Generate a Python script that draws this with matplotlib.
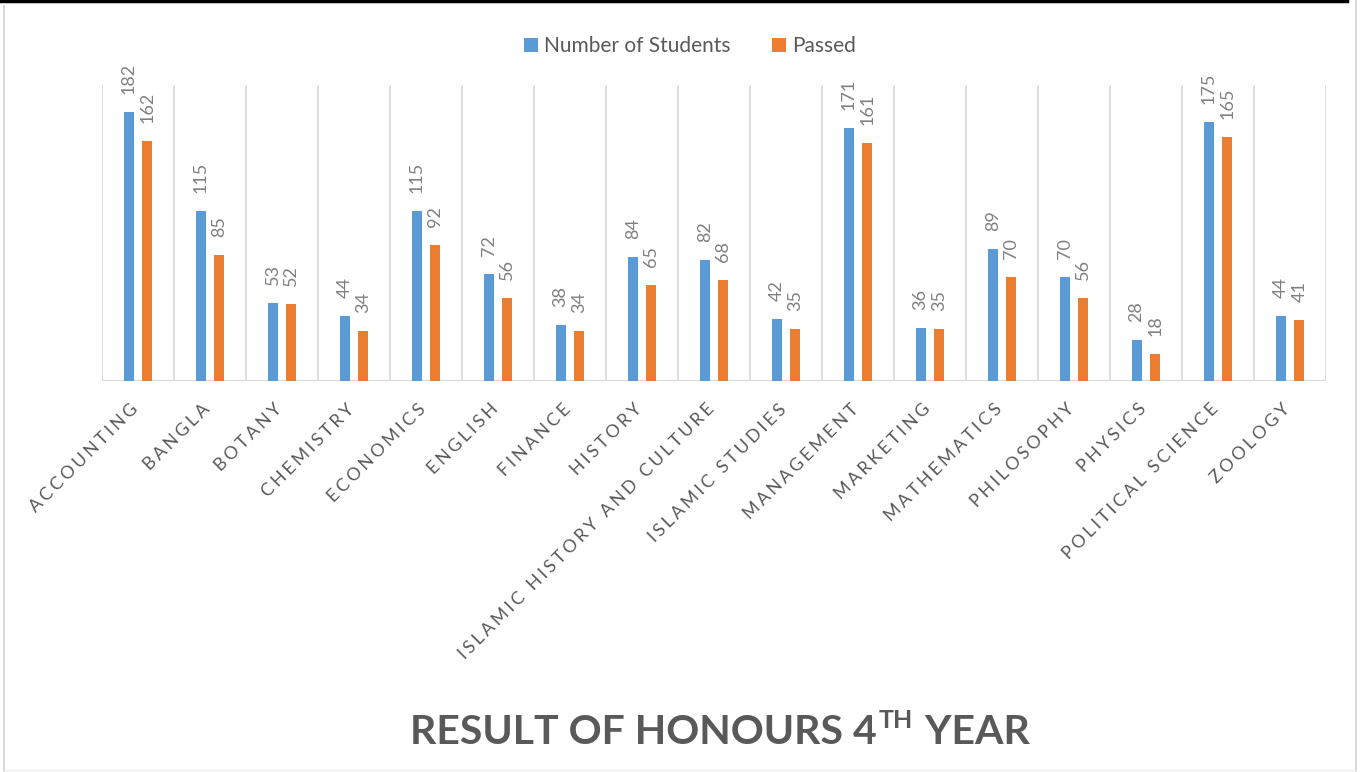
import matplotlib
matplotlib.use("Agg")
import matplotlib.pyplot as plt
from matplotlib.lines import Line2D
import numpy as np

categories = ["ACCOUNTING", "BANGLA", "BOTANY", "CHEMISTRY", "ECONOMICS", "ENGLISH",
              "FINANCE", "HISTORY", "ISLAMIC HISTORY AND CULTURE", "ISLAMIC STUDIES",
              "MANAGEMENT", "MARKETING", "MATHEMATICS", "PHILOSOPHY", "PHYSICS",
              "POLITICAL SCIENCE", "ZOOLOGY"]
students = [182, 115, 53, 44, 115, 72, 38, 84, 82, 42, 171, 36, 89, 70, 28, 175, 44]
passed = [162, 85, 52, 34, 92, 56, 34, 65, 68, 35, 161, 35, 70, 56, 18, 165, 41]
series_names = ["Number of Students", "Passed"]
title_main = "RESULT OF HONOURS 4"
title_sup = "TH"
title_end = " YEAR"

FAM = ["Lato", "DejaVu Sans"]
BLUE = "#5B9BD5"
ORANGE = "#ED7D31"
GREY = "#595959"
LGREY = "#808080"

fig = plt.figure(figsize=(13.63, 7.72), dpi=100)
ax = fig.add_axes([102/1363, 1-381/772, (1326-102)/1363, (381-85)/772])

x = np.arange(len(categories))
w = 0.14
off = 0.13
b1 = ax.bar(x - off, students, w, color=BLUE, label=series_names[0], zorder=3)
b2 = ax.bar(x + off, passed, w, color=ORANGE, label=series_names[1], zorder=3)

for bars in (b1, b2):
    for r in bars:
        ax.annotate(f"{int(r.get_height())}", (r.get_x() + r.get_width()/2, r.get_height()),
                    xytext=(0, 13), textcoords="offset points", rotation=90,
                    ha="center", va="bottom", fontsize=13, color=LGREY, family=FAM)

ax.set_xlim(-0.5, len(categories) - 0.5)
ax.set_ylim(0, 200)
for b in np.arange(-0.5, len(categories), 1.0):
    ax.axvline(b, color="#d9d9d9", lw=1.2, zorder=1)
ax.axhline(0, color="#d9d9d9", lw=1.5, zorder=2)
for s in ax.spines.values():
    s.set_visible(False)
ax.set_yticks([])
ax.set_xticks([])

GAP = "\u2006"
for xi, c in zip(x, categories):
    lab = GAP.join(list(c))
    ax.annotate(lab, (xi, 0), xycoords=("data", "axes fraction"),
                xytext=(-8, -20), textcoords="offset pixels",
                rotation=45, ha="right", va="top", rotation_mode="anchor",
                fontsize=12.8, color=GREY, family=FAM, annotation_clip=False)

leg = fig.legend(handles=[b1, b2], labels=series_names, loc="center",
                 bbox_to_anchor=(690/1363, 1-46/772), ncol=2, frameon=False,
                 prop={"family": FAM, "size": 15}, handlelength=0.65, handleheight=0.65,
                 handletextpad=0.3, columnspacing=2.0)
for t in leg.get_texts():
    t.set_color(GREY)

# title with superscript
fig.canvas.draw()
r = fig.canvas.get_renderer()
ty = 1 - 732/772
t1 = fig.text(0, ty, title_main, fontsize=29.5, fontweight="bold", color=GREY, family=FAM, va="center")
t2 = fig.text(0, ty, title_sup, fontsize=18, fontweight="bold", color=GREY, family=FAM, va="center")
t3 = fig.text(0, ty, title_end, fontsize=29.5, fontweight="bold", color=GREY, family=FAM, va="center")
W = fig.bbox.width
w1 = t1.get_window_extent(r).width / W
w2 = t2.get_window_extent(r).width / W
w3 = t3.get_window_extent(r).width / W
total = w1 + w2 + w3
start = 718/1363 - total/2
t1.set_x(start)
t2.set_x(start + w1 + 0.001)
t2.set_y(ty + 12/772)
t3.set_x(start + w1 + w2 + 0.003)

# frame lines
fig.add_artist(Line2D([0, 1347/1363], [0.999, 0.999], color="black", lw=2.5, transform=fig.transFigure))
fig.add_artist(Line2D([4/1363, 4/1363], [0, 1 - 6/772], color="#d9d9d9", lw=1.5, transform=fig.transFigure))
fig.add_artist(Line2D([1356/1363, 1356/1363], [0, 1], color="#d9d9d9", lw=1.5, transform=fig.transFigure))
fig.add_artist(Line2D([4/1363, 1356/1363], [2/772, 2/772], color="#eeeeee", lw=1, transform=fig.transFigure))

fig.savefig("out.png", dpi=100)
